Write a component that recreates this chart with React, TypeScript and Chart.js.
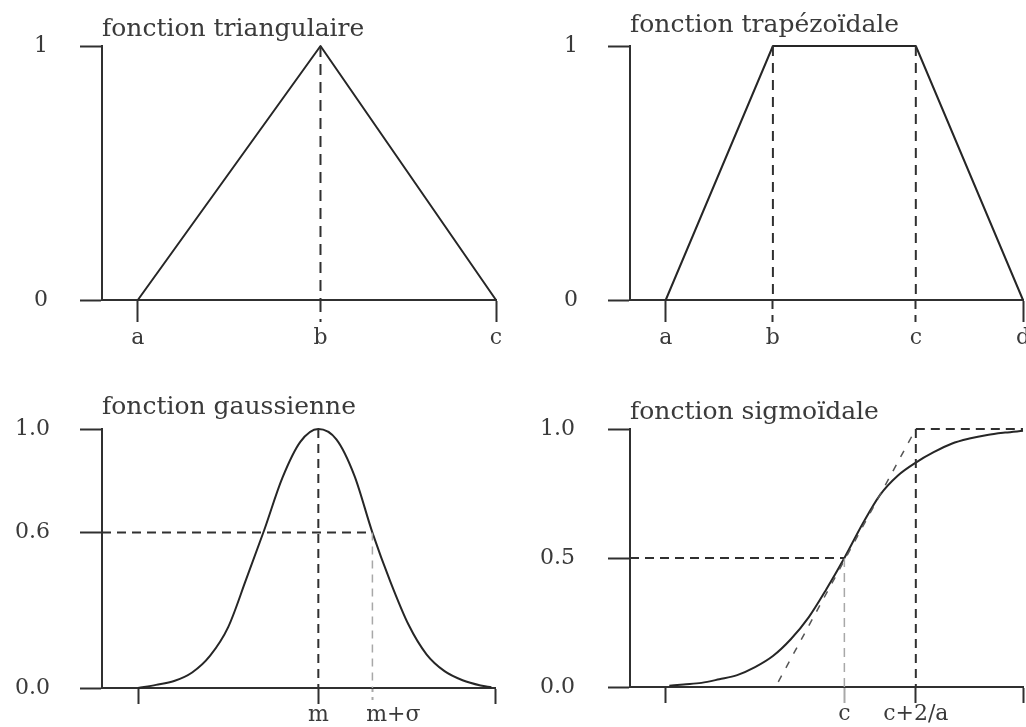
import { useEffect, useRef } from 'react';
import { Chart, registerables } from 'chart.js';

Chart.register(...registerables);

const FONT = 'DejaVu Serif';
const INK = '#262626';
const AXIS = '#303030';
const TEXT = '#3a3a3a';
const LIGHT = '#a8a8a8';

// ---- fonction triangulaire ----
const triX = [1, 6.1, 11];
const triY = [0, 1, 0];
const triTicks = [1, 6.1, 11];
const triTickLabels = ['a', 'b', 'c'];
const triYTicks = [0, 1];
const triYLabels = ['0', '1'];
const triPeakX = [6.1, 6.1];
const triPeakY = [1, 0];

// ---- fonction trapézoïdale ----
const trapX = [1, 4, 8, 11];
const trapY = [0, 1, 1, 0];
const trapTicks = [1, 4, 8, 11];
const trapTickLabels = ['a', 'b', 'c', 'd'];
const trapYTicks = [0, 1];
const trapYLabels = ['0', '1'];
const trapBX = [4, 4];
const trapCX = [8, 8];
const trapDropY = [1, 0];

// ---- fonction gaussienne ----
const gaussX = [1.0, 1.5, 2.0, 2.5, 3.0, 3.5, 4.0, 4.5, 5.0, 5.5, 6.0, 6.5, 7.0, 7.5, 8.0, 8.5, 9.0, 9.5, 10.0, 10.5, 10.8];
const gaussY = [0.0, 0.012, 0.027, 0.06, 0.125, 0.235, 0.42, 0.61, 0.81, 0.95, 1.0, 0.96, 0.82, 0.6, 0.41, 0.245, 0.13, 0.065, 0.03, 0.01, 0.003];
const gaussTicks = [1, 6, 7.5, 10.9];
const gaussTickLabels = ['', 'm', '\u00a0\u00a0\u00a0\u00a0\u00a0\u00a0m+σ', ''];
const gaussYTicks = [0, 0.6, 1];
const gaussYLabels = ['0.0', '0.6', '1.0'];
const gaussMeanX = [6, 6];
const gaussMeanY = [1, 0];
const gaussLevelX = [0, 7.5];
const gaussLevelY = [0.6, 0.6];
const gaussSigmaX = [7.5, 7.5];
const gaussSigmaY = [0.6, 0];

// ---- fonction sigmoïdale ----
const sigX = [1.1, 1.5, 2.0, 2.5, 3.0, 3.5, 4.0, 4.5, 5.0, 5.5, 6.0, 6.5, 7.0, 7.5, 8.0, 8.5, 9.0, 9.5, 10.0, 10.5, 11.0];
const sigY = [0.005, 0.01, 0.016, 0.03, 0.046, 0.077, 0.12, 0.185, 0.27, 0.38, 0.5, 0.63, 0.745, 0.82, 0.87, 0.91, 0.943, 0.963, 0.977, 0.986, 0.993];
const sigTicks = [1, 6, 8, 11];
const sigTickLabels = ['', 'c', 'c+2/a', ''];
const sigYTicks = [0, 0.5, 1];
const sigYLabels = ['0.0', '0.5', '1.0'];
const sigHalfX = [0, 6];
const sigHalfY = [0.5, 0.5];
const sigCX = [6, 6];
const sigCY = [0.5, 0];
const sigEdgeX = [8, 8];
const sigEdgeY = [1, 0];
const sigTopX = [8, 11];
const sigTopY = [1, 1];
const sigTangentX = [4.15, 8];
const sigTangentY = [0.02, 1];

type Guide = { x: number[]; y: number[]; color: string; dash: number[]; width?: number };

type Panel = {
  title: string;
  box: { left: number; top: number; width: number; height: number };
  yAxisWidth: number;
  padRight: number;
  titlePad: { top: number; bottom: number };
  xAxisHeight: number;
  tickLen: number;
  xLabelPad: number;
  yLabelPad: number;
  xMax: number;
  curveX: number[];
  curveY: number[];
  smooth: boolean;
  guides: Guide[];
  xTicks: number[];
  xLabels: string[];
  xTickColor: string[];
  xTickDash: number[][];
  yTicks: number[];
  yLabels: string[];
};

const DASH = [10, 7];

const panels: Panel[] = [
  {
    title: 'fonction triangulaire',
    box: { left: 0, top: 0, width: 513, height: 363 },
    yAxisWidth: 102,
    padRight: 17,
    titlePad: { top: 14, bottom: 2 },
    xAxisHeight: 63,
    tickLen: 22,
    xLabelPad: 5,
    yLabelPad: 32,
    xMax: 11,
    curveX: triX,
    curveY: triY,
    smooth: false,
    guides: [{ x: triPeakX, y: triPeakY, color: AXIS, dash: [11, 7] }],
    xTicks: triTicks,
    xLabels: triTickLabels,
    xTickColor: [AXIS, AXIS, AXIS],
    xTickDash: [[], [11, 7], []],
    yTicks: triYTicks,
    yLabels: triYLabels,
  },
  {
    title: 'fonction trapézoïdale',
    box: { left: 513, top: 0, width: 513, height: 363 },
    yAxisWidth: 117,
    padRight: 3,
    titlePad: { top: 10, bottom: 6 },
    xAxisHeight: 63,
    tickLen: 22,
    xLabelPad: 5,
    yLabelPad: 30,
    xMax: 11,
    curveX: trapX,
    curveY: trapY,
    smooth: false,
    guides: [
      { x: trapBX, y: trapDropY, color: AXIS, dash: DASH },
      { x: trapCX, y: trapDropY, color: AXIS, dash: DASH },
    ],
    xTicks: trapTicks,
    xLabels: trapTickLabels,
    xTickColor: [AXIS, AXIS, AXIS, AXIS],
    xTickDash: [[], [8, 6], [8, 6], []],
    yTicks: trapYTicks,
    yLabels: trapYLabels,
  },
  {
    title: 'fonction gaussienne',
    box: { left: 0, top: 363, width: 513, height: 364 },
    yAxisWidth: 102,
    padRight: 18,
    titlePad: { top: 29, bottom: 7 },
    xAxisHeight: 39,
    tickLen: 16,
    xLabelPad: 0,
    yLabelPad: 30,
    xMax: 10.9,
    curveX: gaussX,
    curveY: gaussY,
    smooth: true,
    guides: [
      { x: gaussMeanX, y: gaussMeanY, color: AXIS, dash: [9, 6] },
      { x: gaussLevelX, y: gaussLevelY, color: AXIS, dash: [9, 6] },
      { x: gaussSigmaX, y: gaussSigmaY, color: LIGHT, dash: [8, 6], width: 1.5 },
    ],
    xTicks: gaussTicks,
    xLabels: gaussTickLabels,
    xTickColor: [AXIS, AXIS, LIGHT, AXIS],
    xTickDash: [[], [], [3, 5], []],
    yTicks: gaussYTicks,
    yLabels: gaussYLabels,
  },
  {
    title: 'fonction sigmoïdale',
    box: { left: 513, top: 363, width: 513, height: 364 },
    yAxisWidth: 117,
    padRight: 3,
    titlePad: { top: 34, bottom: 2 },
    xAxisHeight: 40,
    tickLen: 16,
    xLabelPad: 0,
    yLabelPad: 33,
    xMax: 11,
    curveX: sigX,
    curveY: sigY,
    smooth: true,
    guides: [
      { x: sigHalfX, y: sigHalfY, color: AXIS, dash: [9, 6] },
      { x: sigCX, y: sigCY, color: LIGHT, dash: [9, 6], width: 1.5 },
      { x: sigEdgeX, y: sigEdgeY, color: AXIS, dash: [9, 6] },
      { x: sigTopX, y: sigTopY, color: AXIS, dash: [9, 6] },
      { x: sigTangentX, y: sigTangentY, color: '#555555', dash: [7, 9], width: 1.5 },
    ],
    xTicks: sigTicks,
    xLabels: sigTickLabels,
    xTickColor: [AXIS, LIGHT, AXIS, AXIS],
    xTickDash: [[], [], [], []],
    yTicks: sigYTicks,
    yLabels: sigYLabels,
  },
];

function buildConfig(p: Panel): any {
  const toPoints = (xs: number[], ys: number[]) => xs.map((x, i) => ({ x, y: ys[i] }));
  const datasets: any[] = p.guides.map((g) => ({
    data: toPoints(g.x, g.y),
    borderColor: g.color,
    borderWidth: g.width ?? 2,
    borderDash: g.dash,
    pointRadius: 0,
    fill: false,
    clip: false,
    tension: 0,
  }));
  datasets.push({
    data: toPoints(p.curveX, p.curveY),
    borderColor: INK,
    borderWidth: 2,
    pointRadius: 0,
    fill: false,
    clip: false,
    tension: 0,
    cubicInterpolationMode: p.smooth ? 'monotone' : 'default',
    borderJoinStyle: 'round',
  });

  return {
    type: 'line',
    data: { datasets },
    options: {
      animation: false,
      responsive: false,
      events: [],
      layout: { padding: { left: 0, right: p.padRight, top: 0, bottom: 0 } },
      plugins: {
        legend: { display: false },
        tooltip: { enabled: false },
        title: {
          display: true,
          text: p.title,
          align: 'start',
          fullSize: false,
          color: TEXT,
          font: { family: FONT, size: 25, weight: 'normal', lineHeight: 1.2 },
          padding: p.titlePad,
        },
      },
      scales: {
        x: {
          type: 'linear',
          min: 0,
          max: p.xMax,
          afterBuildTicks: (axis: any) => {
            axis.ticks = p.xTicks.map((v) => ({ value: v }));
          },
          afterFit: (axis: any) => {
            axis.height = p.xAxisHeight;
            axis.paddingLeft = 0;
            axis.paddingRight = 0;
          },
          border: { display: true, color: AXIS, width: 2 },
          grid: {
            display: true,
            drawOnChartArea: false,
            drawTicks: true,
            tickLength: p.tickLen,
            tickWidth: 2,
            color: AXIS,
            tickColor: (ctx: any) => p.xTickColor[ctx.index] ?? AXIS,
            tickBorderDash: (ctx: any) => p.xTickDash[ctx.index] ?? [],
          },
          ticks: {
            autoSkip: false,
            maxRotation: 0,
            minRotation: 0,
            padding: p.xLabelPad,
            color: TEXT,
            font: { family: FONT, size: 22, lineHeight: 1 },
            callback: (_v: any, i: number) => p.xLabels[i],
          },
        },
        y: {
          type: 'linear',
          min: 0,
          max: 1,
          afterBuildTicks: (axis: any) => {
            axis.ticks = p.yTicks.map((v) => ({ value: v }));
          },
          afterFit: (axis: any) => {
            axis.width = p.yAxisWidth;
            axis.paddingTop = 0;
            axis.paddingBottom = 0;
          },
          border: { display: true, color: AXIS, width: 2 },
          grid: {
            display: true,
            drawOnChartArea: false,
            drawTicks: true,
            tickLength: 22,
            tickWidth: 2,
            color: AXIS,
            tickColor: AXIS,
          },
          ticks: {
            padding: p.yLabelPad,
            color: TEXT,
            font: { family: FONT, size: 22, lineHeight: 1 },
            callback: (_v: any, i: number) => p.yLabels[i],
          },
        },
      },
    },
  };
}

function PanelChart({ panel }: { panel: Panel }) {
  const ref = useRef<HTMLCanvasElement | null>(null);
  useEffect(() => {
    if (!ref.current) return;
    const chart = new Chart(ref.current, buildConfig(panel));
    return () => chart.destroy();
  }, [panel]);
  const { left, top, width, height } = panel.box;
  return (
    <canvas
      ref={ref}
      width={width}
      height={height}
      style={{ position: 'absolute', left, top, width, height }}
    />
  );
}

export default function App() {
  return (
    <div
      style={{
        position: 'absolute',
        left: 0,
        top: 0,
        width: 1026,
        height: 727,
        background: '#ffffff',
        overflow: 'hidden',
      }}
    >
      {panels.map((p) => (
        <PanelChart key={p.title} panel={p} />
      ))}
    </div>
  );
}
